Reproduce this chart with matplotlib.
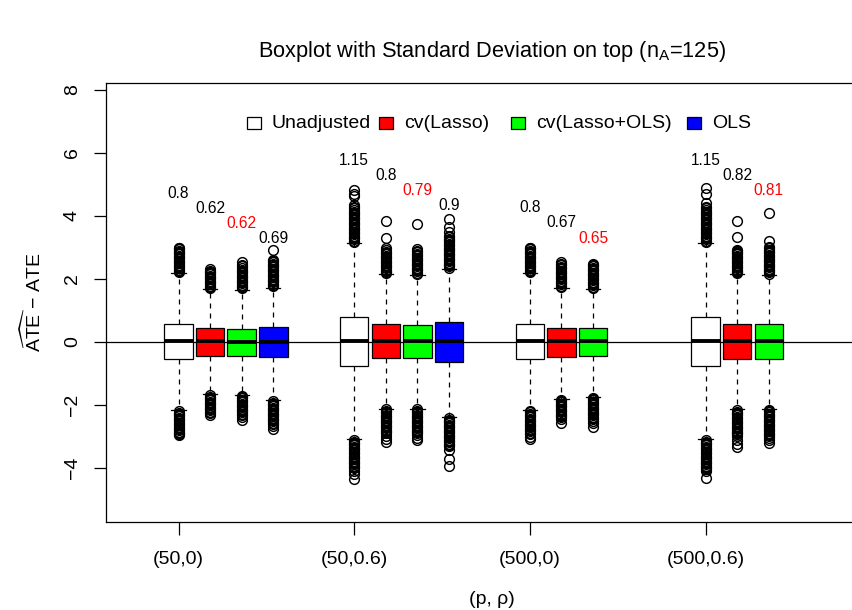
import matplotlib
matplotlib.use("Agg")
import matplotlib.pyplot as plt
from matplotlib.patches import Rectangle

plt.rcParams["font.family"] = ["Liberation Sans", "DejaVu Sans"]
plt.rcParams["mathtext.fontset"] = "custom"
plt.rcParams["mathtext.rm"] = "Liberation Sans"
plt.rcParams["mathtext.it"] = "Liberation Sans:italic"

# settings (p, rho) and the methods shown in each
groups = ["(50,0)", "(50,0.6)", "(500,0)", "(500,0.6)"]
methods = ["Unadjusted", "cv(Lasso)", "cv(Lasso+OLS)", "OLS"]
colors = ["white", "red", "#00FF00", "blue"]
n_methods = [4, 4, 3, 3]

# box statistics, one entry per box in plotting order
med = [0.01, 0.01, 0.00, 0.00, 0.01, 0.02, 0.02, 0.02, 0.01, 0.01, 0.01, 0.01, 0.02, 0.02]
q1 = [-0.55, -0.44, -0.45, -0.49, -0.78, -0.53, -0.53, -0.63, -0.55, -0.47, -0.46, -0.78, -0.54, -0.54]
q3 = [0.57, 0.43, 0.41, 0.46, 0.80, 0.55, 0.53, 0.62, 0.57, 0.45, 0.44, 0.80, 0.55, 0.55]
whislo = [-2.17, -1.67, -1.69, -1.86, -3.10, -2.12, -2.12, -2.40, -2.17, -1.81, -1.75, -3.10, -2.15, -2.13]
whishi = [2.17, 1.66, 1.65, 1.72, 3.13, 2.14, 2.12, 2.32, 2.17, 1.70, 1.68, 3.13, 2.14, 2.12]

sd_text = ["0.8", "0.62", "0.62", "0.69", "1.15", "0.8", "0.79", "0.9",
           "0.8", "0.67", "0.65", "1.15", "0.82", "0.81"]

fliers_hi = [
    [2.21, 2.25, 2.29, 2.33, 2.37, 2.41, 2.45, 2.49, 2.53, 2.57, 2.61, 2.65, 2.69, 2.73, 2.77, 2.81, 2.85, 2.89, 2.93, 2.96, 2.99],
    [1.70, 1.74, 1.78, 1.82, 1.86, 1.90, 1.94, 1.98, 2.02, 2.06, 2.10, 2.14, 2.18, 2.22, 2.26, 2.30],
    [1.69, 1.73, 1.77, 1.81, 1.85, 1.89, 1.93, 1.97, 2.01, 2.05, 2.09, 2.13, 2.17, 2.21, 2.25, 2.29, 2.34, 2.39, 2.45, 2.53],
    [1.76, 1.80, 1.84, 1.88, 1.92, 1.96, 2.00, 2.04, 2.08, 2.12, 2.16, 2.20, 2.24, 2.28, 2.32, 2.36, 2.40, 2.44, 2.48, 2.52, 2.56, 2.60, 2.91],
    [3.17, 3.21, 3.25, 3.29, 3.33, 3.37, 3.41, 3.45, 3.49, 3.53, 3.57, 3.61, 3.65, 3.69, 3.73, 3.77, 3.81, 3.85, 3.89, 3.93, 3.97, 4.01, 4.05, 4.09, 4.13, 4.18, 4.23, 4.28, 4.35, 4.62, 4.70, 4.80],
    [2.17, 2.21, 2.25, 2.29, 2.33, 2.37, 2.41, 2.45, 2.49, 2.53, 2.57, 2.61, 2.65, 2.69, 2.73, 2.77, 2.81, 2.86, 2.91, 2.96, 3.28, 3.84],
    [2.15, 2.19, 2.23, 2.27, 2.31, 2.35, 2.39, 2.43, 2.47, 2.51, 2.55, 2.59, 2.63, 2.67, 2.71, 2.75, 2.79, 2.84, 2.89, 2.95, 3.74],
    [2.35, 2.39, 2.43, 2.47, 2.51, 2.55, 2.59, 2.63, 2.67, 2.71, 2.75, 2.79, 2.83, 2.87, 2.91, 2.95, 2.99, 3.03, 3.07, 3.11, 3.15, 3.19, 3.23, 3.27, 3.31, 3.36, 3.47, 3.65, 3.90],
    [2.21, 2.25, 2.29, 2.33, 2.37, 2.41, 2.45, 2.49, 2.53, 2.57, 2.61, 2.65, 2.69, 2.73, 2.77, 2.81, 2.85, 2.89, 2.93, 2.96, 2.99],
    [1.74, 1.78, 1.82, 1.86, 1.90, 1.94, 1.98, 2.02, 2.06, 2.10, 2.14, 2.18, 2.22, 2.26, 2.30, 2.34, 2.38, 2.42, 2.47, 2.53],
    [1.71, 1.75, 1.79, 1.83, 1.87, 1.91, 1.95, 1.99, 2.03, 2.07, 2.11, 2.15, 2.19, 2.23, 2.27, 2.31, 2.35, 2.39, 2.43, 2.46],
    [3.17, 3.21, 3.25, 3.29, 3.33, 3.37, 3.41, 3.45, 3.49, 3.53, 3.57, 3.61, 3.65, 3.69, 3.73, 3.77, 3.81, 3.85, 3.89, 3.93, 3.97, 4.01, 4.05, 4.09, 4.13, 4.18, 4.23, 4.28, 4.40, 4.70, 4.87],
    [2.17, 2.21, 2.25, 2.29, 2.33, 2.37, 2.41, 2.45, 2.49, 2.53, 2.57, 2.61, 2.65, 2.69, 2.73, 2.77, 2.81, 2.85, 2.89, 2.92, 3.31, 3.84],
    [2.16, 2.20, 2.24, 2.28, 2.32, 2.36, 2.40, 2.44, 2.48, 2.52, 2.56, 2.60, 2.64, 2.68, 2.72, 2.76, 2.80, 2.84, 2.88, 2.92, 2.96, 3.00, 3.20, 4.08],
]

fliers_lo = [
    [-2.21, -2.25, -2.29, -2.33, -2.37, -2.41, -2.45, -2.49, -2.53, -2.57, -2.61, -2.65, -2.69, -2.73, -2.77, -2.81, -2.85, -2.89, -2.93, -2.97],
    [-1.70, -1.74, -1.78, -1.82, -1.86, -1.90, -1.94, -1.98, -2.02, -2.06, -2.10, -2.14, -2.18, -2.22, -2.26, -2.33],
    [-1.72, -1.76, -1.80, -1.84, -1.88, -1.92, -1.96, -2.00, -2.04, -2.08, -2.12, -2.16, -2.20, -2.24, -2.28, -2.32, -2.38, -2.47],
    [-1.89, -1.93, -1.97, -2.01, -2.05, -2.09, -2.13, -2.17, -2.21, -2.25, -2.29, -2.33, -2.37, -2.41, -2.45, -2.49, -2.53, -2.57, -2.62, -2.68, -2.76],
    [-3.13, -3.17, -3.21, -3.25, -3.29, -3.33, -3.37, -3.41, -3.45, -3.49, -3.53, -3.57, -3.61, -3.65, -3.69, -3.73, -3.77, -3.81, -3.85, -3.89, -3.93, -3.97, -4.01, -4.10, -4.20, -4.36],
    [-2.15, -2.19, -2.23, -2.27, -2.31, -2.35, -2.39, -2.43, -2.47, -2.51, -2.55, -2.59, -2.63, -2.67, -2.71, -2.75, -2.79, -2.83, -2.87, -2.91, -3.00, -3.08, -3.18],
    [-2.15, -2.19, -2.23, -2.27, -2.31, -2.35, -2.39, -2.43, -2.47, -2.51, -2.55, -2.59, -2.63, -2.67, -2.71, -2.75, -2.79, -2.83, -2.87, -2.91, -2.95, -3.05, -3.11],
    [-2.43, -2.47, -2.51, -2.55, -2.59, -2.63, -2.67, -2.71, -2.75, -2.79, -2.83, -2.87, -2.91, -2.95, -2.99, -3.03, -3.07, -3.11, -3.15, -3.19, -3.23, -3.27, -3.31, -3.45, -3.72, -3.93],
    [-2.20, -2.24, -2.28, -2.32, -2.36, -2.40, -2.44, -2.48, -2.52, -2.56, -2.60, -2.64, -2.68, -2.72, -2.76, -2.80, -2.84, -2.88, -2.92, -3.02, -3.10],
    [-1.84, -1.88, -1.92, -1.96, -2.00, -2.04, -2.08, -2.12, -2.16, -2.20, -2.24, -2.28, -2.32, -2.36, -2.40, -2.44, -2.57],
    [-1.78, -1.82, -1.86, -1.90, -1.94, -1.98, -2.02, -2.06, -2.10, -2.14, -2.18, -2.22, -2.26, -2.30, -2.34, -2.38, -2.42, -2.46, -2.50, -2.59, -2.70],
    [-3.13, -3.17, -3.21, -3.25, -3.29, -3.33, -3.37, -3.41, -3.45, -3.49, -3.53, -3.57, -3.61, -3.65, -3.69, -3.73, -3.77, -3.81, -3.85, -3.89, -3.93, -3.97, -4.01, -4.05, -4.09, -4.32],
    [-2.18, -2.22, -2.26, -2.30, -2.34, -2.38, -2.42, -2.46, -2.50, -2.54, -2.58, -2.62, -2.66, -2.70, -2.74, -2.78, -2.82, -2.86, -2.90, -2.94, -2.98, -3.12, -3.25, -3.35],
    [-2.16, -2.20, -2.24, -2.28, -2.32, -2.36, -2.40, -2.44, -2.48, -2.52, -2.56, -2.60, -2.64, -2.68, -2.72, -2.76, -2.80, -2.84, -2.88, -2.92, -2.96, -3.00, -3.04, -3.12, -3.22],
]

# height of the first sd label in each group, later ones step down
sd_top = [4.71, 5.75, 4.25, 5.75]
sd_step = 0.48
group_gap = 5.56

W, H = 853, 610
fig = plt.figure(figsize=(W / 100, H / 100), dpi=100)
ax = fig.add_axes([106 / W, (H - 521.7) / H, (878 - 106) / W, (521.7 - 83.3) / H])

stats, pos, faces, sd_pos, sd_col = [], [], [], [], []
i = 0
for g, n in enumerate(n_methods):
    for k in range(n):
        stats.append(dict(med=med[i], q1=q1[i], q3=q3[i], whislo=whislo[i], whishi=whishi[i],
                          fliers=fliers_hi[i] + fliers_lo[i]))
        pos.append(g * group_gap + k)
        faces.append(colors[k])
        sd_pos.append(sd_top[g] - sd_step * k)
        sd_col.append("red" if k == 2 else "black")
        i += 1

ax.axhline(0, color="black", lw=0.9, zorder=1)
bp = ax.bxp(stats, positions=pos, widths=0.9, patch_artist=True,
            boxprops=dict(edgecolor="black", lw=0.9),
            medianprops=dict(color="black", lw=2.8, solid_capstyle="butt"),
            whiskerprops=dict(color="black", lw=0.9, linestyle=(0, (4, 4))),
            capprops=dict(color="black", lw=0.9),
            flierprops=dict(marker="o", markerfacecolor="none", markeredgecolor="black",
                            markersize=7, markeredgewidth=1.05))
for box, c in zip(bp["boxes"], faces):
    box.set_facecolor(c)

for x, y, s, c in zip(pos, sd_pos, sd_text, sd_col):
    ax.text(x, y, s, ha="center", va="center", fontsize=11.2, color=c)

ax.set_xlim(-(178.5 - 106) / 31.6, (878 - 178.5) / 31.6)
ax.set_ylim(-5.71, 8.2)
ax.set_xticks([g * group_gap for g in range(len(groups))])
ax.set_xticklabels(groups)
ax.set_yticks([-4, -2, 0, 2, 4, 6, 8])
ax.tick_params(axis="both", labelsize=14, length=9, width=0.9)
ax.tick_params(axis="x", pad=12)
ax.tick_params(axis="y", pad=9)
for t in ax.get_yticklabels():
    t.set_rotation(90)
    t.set_va("center")
for s in ax.spines.values():
    s.set_linewidth(0.9)

ax.set_xlabel("(p, ρ)", fontsize=14, labelpad=17)
ax.set_ylabel(r"$\widehat{\mathrm{ATE}}$ − ATE", fontsize=14, labelpad=14)
ax.set_title(r"Boxplot with Standard Deviation on top (n$_\mathrm{A}$=125)", fontsize=15.7, pad=19)

# legend drawn the way R lays it out: squares at fixed spots along the top
leg_x = [246.7, 379.0, 510.7, 686.7]
leg_y = 123.3
for lx, c, m in zip(leg_x, colors, methods):
    fig.add_artist(Rectangle((lx / W, 1 - (leg_y + 6) / H), 14.5 / W, 12 / H,
                             transform=fig.transFigure, facecolor=c, edgecolor="black", lw=0.9))
    fig.text((lx + 25) / W, 1 - leg_y / H, m, fontsize=14, ha="left", va="center")

fig.savefig("out.png", dpi=100)
